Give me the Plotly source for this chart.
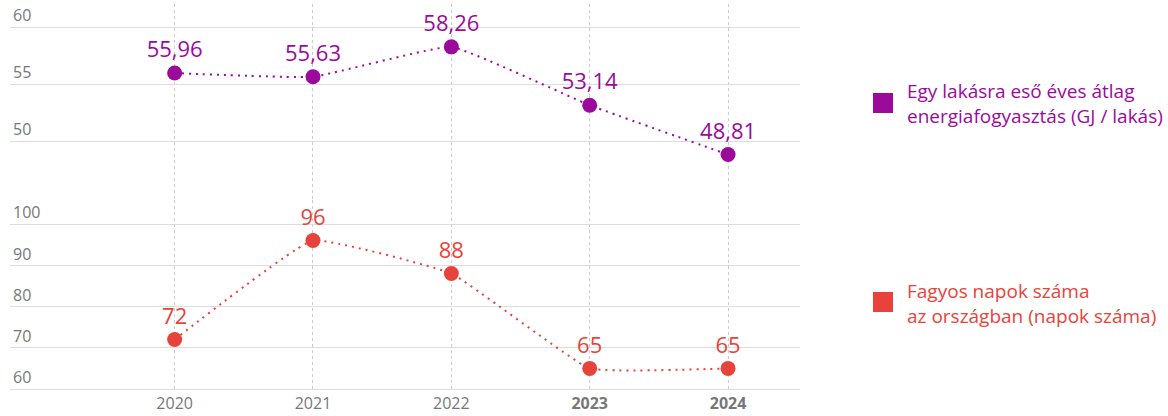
import plotly.graph_objects as go

years = ["2020", "2021", "2022", "2023", "2024"]
year_labels = ["2020", "2021", "2022", "<b>2023</b>", "<b>2024</b>"]
energy = [55.96, 55.63, 58.26, 53.14, 48.81]
frost = [72, 96, 88, 65, 65]
energy_name = "Egy lakásra eső éves átlag<br>energiafogyasztás (GJ / lakás)"
frost_name = "Fagyos napok száma<br>az országban (napok száma)"

PURPLE = "#9C0A9C"
RED = "#E8433A"
FONT = "Open Sans"

x_idx = list(range(len(years)))

def fmt(v):
    return f"{v:.2f}".replace(".", ",") if isinstance(v, float) else str(v)

fig = go.Figure()
fig.add_trace(go.Scatter(
    x=x_idx, y=energy, yaxis="y2", mode="lines+markers+text",
    line=dict(color=PURPLE, width=2, dash="2px,5px", shape="spline", smoothing=0.3),
    marker=dict(color=PURPLE, size=15),
    text=[fmt(v) for v in energy], textposition="top center",
    textfont=dict(color=PURPLE, size=22, family=FONT),
    showlegend=False, hoverinfo="skip"))
fig.add_trace(go.Scatter(
    x=x_idx, y=frost, yaxis="y", mode="lines+markers+text",
    line=dict(color=RED, width=2, dash="2px,5px", shape="spline", smoothing=0.3),
    marker=dict(color=RED, size=15),
    text=[fmt(v) for v in frost], textposition="top center",
    textfont=dict(color=RED, size=22, family=FONT),
    showlegend=False, hoverinfo="skip"))

# plot area: x 10..800, y 4..389 (px)
L, R, T, B = 10, 800, 4, 389
W, H = R - L, B - T
def px(x):
    return (x - L) / W
def py(y):
    return (B - y) / H

split = 200
axis_font = dict(family=FONT, size=16, color="#777777")
fig.update_layout(
    width=1168, height=416,
    margin=dict(l=L, r=1168 - R, t=T, b=416 - B, autoexpand=False),
    paper_bgcolor="white", plot_bgcolor="white",
    font=dict(family=FONT),
    showlegend=False,
    xaxis=dict(tickmode="array", tickvals=x_idx, ticktext=year_labels,
               range=[-1.19, 4.52], showgrid=True, gridcolor="#cccccc", griddash="dot",
               gridwidth=1, zeroline=False, showline=True, linecolor="#dddddd",
               ticks="", ticklen=0, tickfont=axis_font,
               anchor="y", automargin=False),
    yaxis=dict(domain=[0, py(split)], range=[60, 60 + (B - split) / 4.125],
               tickvals=[60, 70, 80, 90, 100],
               ticklabelposition="inside top", showgrid=True, gridcolor="#dddddd",
               zeroline=False, tickfont=axis_font, ticks="", automargin=False),
    yaxis2=dict(domain=[py(split), 1],
                range=[50 - (split - 141) / 11.4, 60 + (27 - T) / 11.4],
                tickvals=[50, 55, 60],
                ticklabelposition="inside top", showgrid=True, gridcolor="#dddddd",
                zeroline=False, tickfont=axis_font, ticks="", automargin=False),
)

# legend: squares + labels
for color, name, sq_top, txt_mid in [(PURPLE, energy_name, 93, 104), (RED, frost_name, 292, 303)]:
    fig.add_shape(type="rect", xref="paper", yref="paper",
                  x0=px(873), x1=px(893), y0=py(sq_top + 20), y1=py(sq_top),
                  fillcolor=color, line=dict(width=0))
    fig.add_annotation(xref="paper", yref="paper", x=px(905), y=py(txt_mid),
                       xanchor="left", yanchor="middle", align="left", showarrow=False,
                       text=name, font=dict(family=FONT, size=19, color=color))

fig.write_html("out.html", config={"displayModeBar": False},
               post_script="document.body.style.margin='0';document.body.style.overflow='hidden';")
